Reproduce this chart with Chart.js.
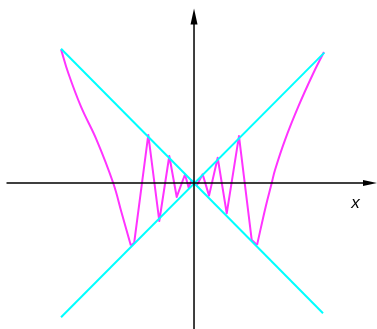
<!DOCTYPE html>
<html>
<head>
<meta charset="utf-8">
<script src="https://cdn.jsdelivr.net/npm/chart.js@4"></script>
<style>
  html, body { margin: 0; padding: 0; background: #fff; }
  #wrap { width: 377px; height: 329px; }
</style>
</head>
<body>
<div id="wrap"><canvas id="myChart"></canvas></div>
<script>
// cyan envelope lines
var envDownX = [-1.0, 0.97];
var envDownY = [1.01, -0.98];
var envUpX = [-1.0, 0.98];
var envUpY = [-1.01, 0.98];

// magenta curve: smooth outer branches and the zigzag between them
var leftOuterX = [-1.0, -0.945, -0.85, -0.732, -0.607, -0.544, -0.475];
var leftOuterY = [1.005, 0.825, 0.574, 0.323, -0.002, -0.226, -0.47];
var zigzagX = [-0.475, -0.45, -0.344, -0.261, -0.186, -0.13, -0.068, -0.04, -0.02, 0,
  0.02, 0.065, 0.113, 0.178, 0.246, 0.338, 0.434, 0.474];
var zigzagY = [-0.47, -0.45, 0.361, -0.286, 0.203, -0.105, 0.064, -0.035, 0.02, 0,
  -0.02, 0.065, -0.095, 0.19, -0.228, 0.353, -0.429, -0.466];
var rightOuterX = [0.474, 0.539, 0.584, 0.609, 0.684, 0.784, 0.897, 0.977];
var rightOuterY = [-0.466, -0.178, -0.002, 0.098, 0.323, 0.574, 0.825, 0.985];

// axis extents
var xAxisFrom = -1.41, xAxisTo = 1.376;
var yAxisFrom = -1.1, yAxisTo = 1.313;
var xLabel = "x";

function pts(xs, ys) {
  return xs.map(function (x, i) { return { x: x, y: ys[i] }; });
}

function line(xs, ys, color, tension) {
  return {
    data: pts(xs, ys),
    showLine: true,
    borderColor: color,
    borderWidth: 2,
    borderJoinStyle: "round",
    pointRadius: 0,
    tension: tension,
  };
}

var axesPlugin = {
  id: "axesArrows",
  afterDatasetsDraw: function (chart) {
    var c = chart.ctx, sx = chart.scales.x, sy = chart.scales.y;
    var x0 = sx.getPixelForValue(0), y0 = sy.getPixelForValue(0);
    var xa = sx.getPixelForValue(xAxisFrom), xb = sx.getPixelForValue(xAxisTo);
    var ya = sy.getPixelForValue(yAxisFrom), yb = sy.getPixelForValue(yAxisTo);
    c.save();
    c.strokeStyle = "#000";
    c.fillStyle = "#000";
    c.lineWidth = 1.5;
    c.beginPath();
    c.moveTo(xa, y0); c.lineTo(xb - 10, y0);
    c.moveTo(x0, ya); c.lineTo(x0, yb + 10);
    c.stroke();
    // arrow heads
    c.beginPath();
    c.moveTo(xb, y0); c.lineTo(xb - 14, y0 - 3); c.lineTo(xb - 14, y0 + 3); c.closePath();
    c.fill();
    c.beginPath();
    c.moveTo(x0, yb); c.lineTo(x0 - 3.5, yb + 16); c.lineTo(x0 + 3.5, yb + 16); c.closePath();
    c.fill();
    c.font = "italic 17px 'Liberation Sans', Arial, sans-serif";
    c.textAlign = "center";
    c.textBaseline = "middle";
    c.fillText(xLabel, sx.getPixelForValue(1.215), sy.getPixelForValue(-0.155));
    c.restore();
  }
};

var ctx = document.getElementById("myChart").getContext("2d");
var newChart = new Chart(ctx, {
  type: "scatter",
  data: {
    datasets: [
      line(envDownX, envDownY, "#00ffff", 0),
      line(envUpX, envUpY, "#00ffff", 0),
      line(leftOuterX, leftOuterY, "#ff33ff", 0.4),
      line(zigzagX, zigzagY, "#ff33ff", 0),
      line(rightOuterX, rightOuterY, "#ff33ff", 0.4),
    ],
  },
  options: {
    responsive: true,
    maintainAspectRatio: false,
    animation: false,
    layout: { padding: 0 },
    plugins: {
      legend: { display: false },
      tooltip: { enabled: false },
    },
    scales: {
      x: { type: "linear", display: false, min: -1.459, max: 1.376 },
      y: { type: "linear", display: false, min: -1.098, max: 1.376 },
    },
  },
  plugins: [axesPlugin],
});
</script>
</body>
</html>
